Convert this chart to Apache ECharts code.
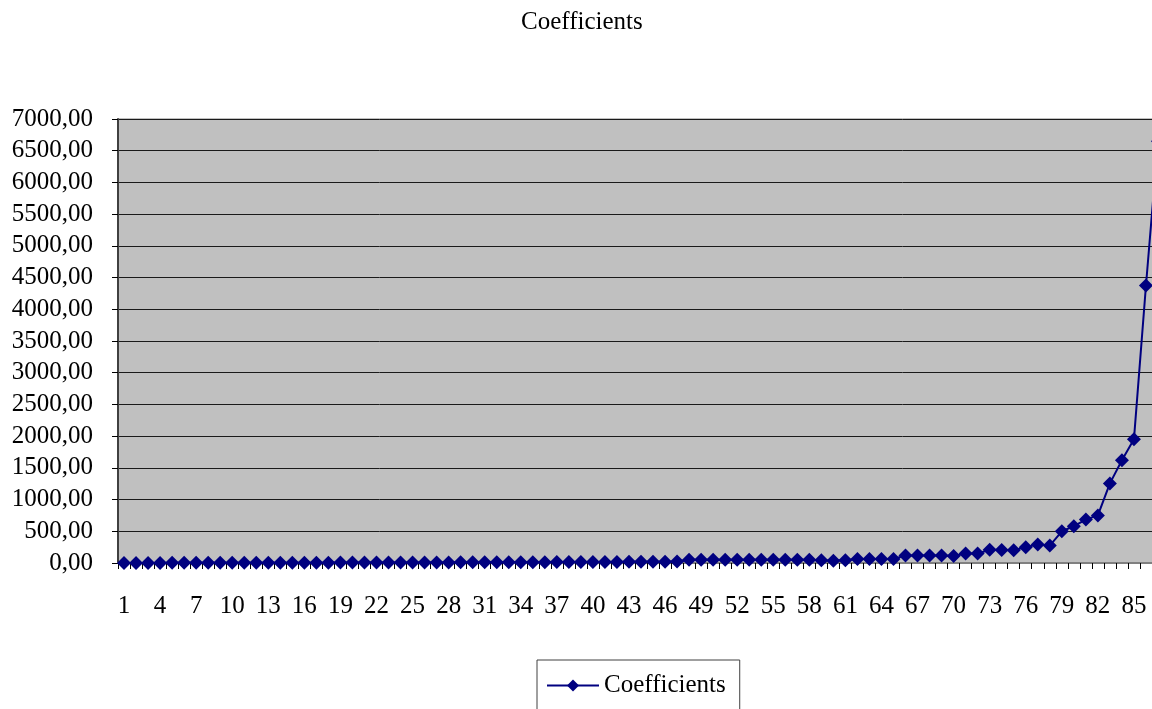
<!DOCTYPE html>
<html>
<head>
<meta charset="utf-8">
<script src="https://cdn.jsdelivr.net/npm/echarts@6/dist/echarts.min.js"></script>
<style>
html,body{margin:0;padding:0;background:#fff;overflow:hidden;width:1152px;height:709px;}
#c{width:1164px;height:709px;}
</style>
</head>
<body>
<div id="c"></div>
<script>
const chartTitle = 'Coefficients';
const seriesName = 'Coefficients';
const categories = [1,2,3,4,5,6,7,8,9,10,11,12,13,14,15,16,17,18,19,20,21,22,23,24,25,26,27,28,29,30,
  31,32,33,34,35,36,37,38,39,40,41,42,43,44,45,46,47,48,49,50,51,52,53,54,55,56,57,58,59,60,
  61,62,63,64,65,66,67,68,69,70,71,72,73,74,75,76,77,78,79,80,81,82,83,84,85,86,87];
const coefficients = [
  1,1,1,1,2,2,2,2,3,3,
  3,3,4,4,4,5,5,5,6,6,
  6,7,7,8,8,8,9,9,10,10,
  11,11,12,12,13,13,14,15,15,16,
  17,17,18,19,20,21,22,50,50,50,
  50,50,50,50,50,50,50,50,45,35,
  45,65,65,65,65,118,118,118,118,110,
  150,150,210,205,200,250,290,275,500,580,
  685,750,1255,1620,1950,4375,6650
];
const yTicks = {min: 0, max: 7000, interval: 500};

const chart = echarts.init(document.getElementById('c'), null, {renderer: 'canvas'});
const serif = 'Liberation Serif';
chart.setOption({
  animation: false,
  backgroundColor: '#ffffff',
  title: {
    text: chartTitle,
    left: 521, top: 10, padding: 0,
    textStyle: {fontFamily: serif, fontSize: 25, fontWeight: 'normal', color: '#000'}
  },
  legend: {
    data: [seriesName],
    left: 537, top: 660,
    padding: [13, 14, 13, 9],
    borderColor: '#404040', borderWidth: 1,
    itemWidth: 52, itemHeight: 15, itemGap: 5,
    textStyle: {fontFamily: serif, fontSize: 25, color: '#000'}
  },
  grid: {
    left: 118, top: 119, right: 0, bottom: 146,
    show: true, backgroundColor: '#c0c0c0', borderColor: '#808080', borderWidth: 1
  },
  xAxis: {
    type: 'category',
    data: categories,
    boundaryGap: true,
    axisLine: {show: true, lineStyle: {color: '#808080', width: 2}},
    axisTick: {show: true, interval: 0, length: 6, lineStyle: {color: '#000', width: 1}},
    axisLabel: {interval: 2, margin: 31, fontFamily: serif, fontSize: 25, color: '#000'},
    splitLine: {show: false}
  },
  yAxis: {
    type: 'value',
    min: yTicks.min, max: yTicks.max, interval: yTicks.interval,
    axisLine: {show: true, lineStyle: {color: '#404040', width: 2}},
    axisTick: {show: true, length: 6, lineStyle: {color: '#000', width: 1}},
    axisLabel: {
      margin: 25, fontFamily: serif, fontSize: 25, color: '#000',
      formatter: v => v.toFixed(2).replace('.', ',')
    },
    splitLine: {show: true, lineStyle: {color: '#1a1a1a', width: 1}}
  },
  series: [{
    name: seriesName,
    type: 'line',
    data: coefficients,
    symbol: 'diamond',
    symbolSize: 14,
    showAllSymbol: true,
    lineStyle: {color: '#000080', width: 2},
    itemStyle: {color: '#000080', borderColor: '#000080', borderWidth: 0}
  }]
});
</script>
</body>
</html>
